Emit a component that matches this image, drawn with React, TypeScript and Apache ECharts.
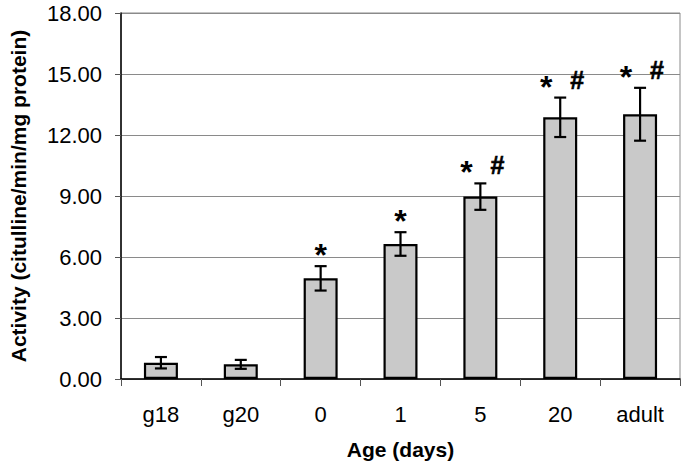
import React, { useEffect, useRef } from "react";
import * as echarts from "echarts";

const categories = ["g18", "g20", "0", "1", "5", "20", "adult"];
const activity = [0.8, 0.72, 4.95, 6.64, 8.97, 12.87, 13.02];
const errors = [0.28, 0.22, 0.6, 0.58, 0.65, 0.97, 1.3];
const starMark = [0, 0, 1, 1, 1, 1, 1];
const hashMark = [0, 0, 0, 0, 1, 1, 1];
const yTicks = [0, 3, 6, 9, 12, 15, 18];

const FONT = "'Liberation Sans', Arial, Helvetica, sans-serif";

export default function App() {
  const ref = useRef<HTMLDivElement>(null);
  useEffect(() => {
    if (!ref.current) return;
    const chart = echarts.init(ref.current, null, { renderer: "svg" });
    const errData = categories.map((c, i) => [i, activity[i], errors[i], starMark[i], hashMark[i]]);
    chart.setOption({
      animation: false,
      backgroundColor: "#ffffff",
      grid: {
        left: 116,
        right: 5,
        top: 13,
        bottom: 88,
        show: true,
        borderColor: "#8a8a8a",
        borderWidth: 1,
        backgroundColor: "transparent",
      },
      xAxis: {
        type: "category",
        data: categories,
        name: "Age (days)",
        nameLocation: "middle",
        nameGap: 60,
        nameTextStyle: { fontFamily: FONT, fontSize: 21, fontWeight: "bold", color: "#000" },
        axisLine: { lineStyle: { color: "#000", width: 1.5 } },
        axisTick: { show: true, length: 7, lineStyle: { color: "#555", width: 1 } },
        axisLabel: { fontFamily: FONT, fontSize: 22, color: "#000", margin: 24 },
        splitLine: { show: false },
      },
      yAxis: {
        type: "value",
        min: yTicks[0],
        max: yTicks[yTicks.length - 1],
        interval: 3,
        name: "Activity (citulline/min/mg protein)",
        nameLocation: "middle",
        nameGap: 92,
        nameTextStyle: { fontFamily: FONT, fontSize: 21, fontWeight: "bold", color: "#000" },
        axisLine: { show: true, lineStyle: { color: "#000", width: 1.5 } },
        axisTick: { show: true, length: 6, lineStyle: { color: "#555", width: 1 } },
        axisLabel: {
          fontFamily: FONT,
          fontSize: 22,
          color: "#000",
          margin: 19,
          formatter: (v: number) => v.toFixed(2),
        },
        splitLine: { show: true, lineStyle: { color: "#8a8a8a", width: 1 } },
      },
      series: [
        {
          type: "bar",
          data: activity,
          barWidth: 34,
          itemStyle: { color: "#c9c9c9", borderColor: "#000", borderWidth: 2.2 },
          z: 2,
        },
        {
          type: "custom",
          data: errData,
          z: 5,
          renderItem: (params: any, api: any) => {
            const idx = api.value(0);
            const v = api.value(1);
            const e = api.value(2);
            const hasStar = api.value(3);
            const hasHash = api.value(4);
            const top = api.coord([idx, v + e]);
            const bot = api.coord([idx, v - e]);
            const cx = top[0];
            const hw = 6;
            const style = { stroke: "#000", lineWidth: 2.2 };
            const children: any[] = [
              { type: "line", shape: { x1: cx, y1: top[1], x2: cx, y2: bot[1] }, style },
              { type: "line", shape: { x1: cx - hw, y1: top[1], x2: cx + hw, y2: top[1] }, style },
              { type: "line", shape: { x1: cx - hw, y1: bot[1], x2: cx + hw, y2: bot[1] }, style },
            ];
            if (hasStar) {
              const sx = hasHash ? cx - 14 : cx;
              children.push({
                type: "text",
                x: sx,
                y: top[1] - 11,
                style: {
                  text: "*",
                  fontFamily: FONT,
                  fontSize: 32,
                  fontWeight: "bold",
                  fill: "#000",
                  align: "center",
                  verticalAlign: "middle",
                },
              });
            }
            if (hasHash) {
              children.push({
                type: "text",
                x: cx + 17,
                y: top[1] - 18,
                style: {
                  text: "#",
                  fontFamily: FONT,
                  fontSize: 25,
                  fontWeight: "bold",
                  fill: "#000",
                  stroke: "#000",
                  lineWidth: 0.6,
                  align: "center",
                  verticalAlign: "middle",
                },
              });
            }
            return { type: "group", children };
          },
        },
      ],
    });
    return () => chart.dispose();
  }, []);
  return <div ref={ref} style={{ width: 685, height: 467, position: "absolute", left: 0, top: 0 }} />;
}
